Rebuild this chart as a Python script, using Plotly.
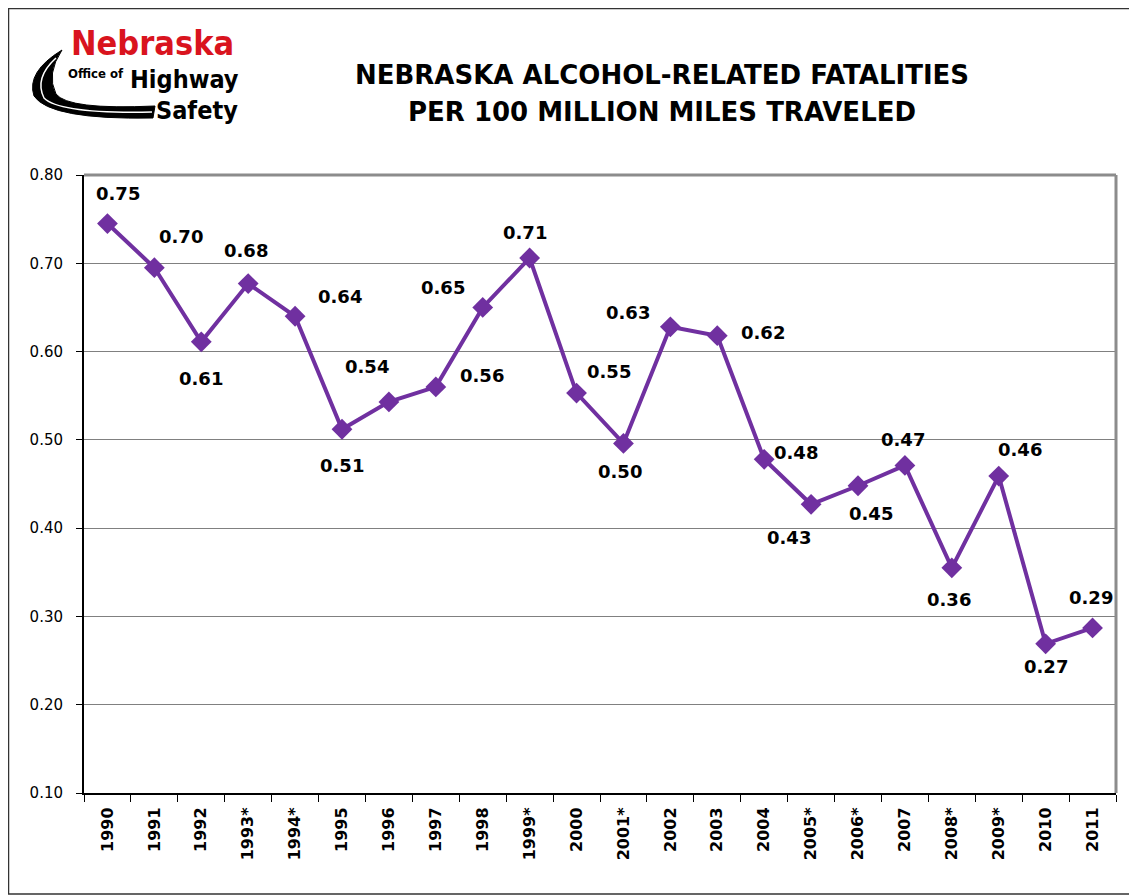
import plotly.graph_objects as go

years = ["1990", "1991", "1992", "1993*", "1994*", "1995", "1996", "1997", "1998", "1999*",
         "2000", "2001*", "2002", "2003", "2004", "2005*", "2006*", "2007", "2008*", "2009*",
         "2010", "2011"]
rates = [0.745, 0.695, 0.611, 0.677, 0.640, 0.512, 0.543, 0.560, 0.650, 0.706,
         0.553, 0.496, 0.628, 0.618, 0.478, 0.427, 0.448, 0.471, 0.355, 0.459,
         0.269, 0.287]
y_ticks = [0.10, 0.20, 0.30, 0.40, 0.50, 0.60, 0.70, 0.80]

# label offsets (pixels) for the data labels
label_dx = [11, 27, 0, -2, 45, 0, -22, 46, -40, -5, 32, -3, -42, 46, 32, -22, 13, -2, -3, 21, 0, -2]
label_dy = [-30, -31, 37, -33, -20, 36, -35, -11, -20, -25, -22, 28, -14, -3, -7, 33, 28, -26, 32, -27, 23, -30]

OFF = 8  # browser body margin
WIN_W, WIN_H = 1137, 895
W, H = WIN_W - OFF, WIN_H - OFF
L, R, T, B = 84, 1116, 175, 793  # page pixel coords of the plot area


def px(x):
    return (x - L) / (R - L)


def py(y):
    return (B - y) / (B - T)


PURPLE = "#7030A0"
fig = go.Figure()
fig.add_trace(go.Scatter(
    x=list(range(len(years))), y=rates, mode="lines+markers",
    line=dict(color=PURPLE, width=4),
    marker=dict(symbol="diamond", size=16, color=PURPLE),
    hoverinfo="skip", showlegend=False,
))

annotations = []
for i, v in enumerate(rates):
    annotations.append(dict(
        x=i, y=v, xref="x", yref="y", text="%.2f" % round(v + 1e-9, 2),
        showarrow=False, xshift=label_dx[i], yshift=-label_dy[i],
        xanchor="center", yanchor="middle",
        font=dict(family="DejaVu Sans", size=18, color="black", weight="bold"),
    ))

# Title (two lines)
title_font = dict(family="DejaVu Sans", size=26, color="black", weight="bold")
annotations.append(dict(x=px(662), y=py(75), xref="paper", yref="paper",
                        text="NEBRASKA ALCOHOL-RELATED FATALITIES", showarrow=False,
                        xanchor="center", yanchor="middle", font=title_font))
annotations.append(dict(x=px(662), y=py(112), xref="paper", yref="paper",
                        text="PER 100 MILLION MILES TRAVELED", showarrow=False,
                        xanchor="center", yanchor="middle", font=title_font))

# Logo text
logo_font = "DejaVu Sans Condensed"
annotations.append(dict(x=px(152), y=py(43), xref="paper", yref="paper", text="Nebraska",
                        showarrow=False, xanchor="center", yanchor="middle",
                        font=dict(family=logo_font, size=34, color="#D9141E", weight="bold")))
annotations.append(dict(x=px(96), y=py(73), xref="paper", yref="paper", text="Office of",
                        showarrow=False, xanchor="center", yanchor="middle",
                        font=dict(family=logo_font, size=13, color="black", weight="bold")))
annotations.append(dict(x=px(184), y=py(79), xref="paper", yref="paper", text="Highway",
                        showarrow=False, xanchor="center", yanchor="middle",
                        font=dict(family=logo_font, size=25, color="black", weight="bold")))
annotations.append(dict(x=px(197), y=py(111), xref="paper", yref="paper", text="Safety",
                        showarrow=False, xanchor="center", yanchor="middle",
                        font=dict(family=logo_font, size=25, color="black", weight="bold")))


def P(x, y):
    return "%f,%f" % (px(x), py(y))


swoosh = ("M " + P(62, 50) + " Q " + P(26, 72) + " " + P(34, 96) +
          " Q " + P(50, 120) + " " + P(153, 118) + " L " + P(155, 106) +
          " Q " + P(68, 110) + " " + P(56, 94) + " Q " + P(46, 74) + " " + P(62, 50) + " Z")
stripe = ("M " + P(56, 58) + " Q " + P(34, 78) + " " + P(44, 98) +
          " Q " + P(60, 114) + " " + P(152, 112))

shapes = [
    dict(type="path", xref="paper", yref="paper", path=swoosh,
         fillcolor="black", line=dict(color="black", width=1), layer="above"),
    dict(type="path", xref="paper", yref="paper", path=stripe,
         line=dict(color="white", width=1.5), layer="above"),
    # outer frame
    dict(type="rect", xref="paper", yref="paper", x0=px(8.5), x1=px(1135.5), y0=py(894), y1=py(8.5),
         line=dict(color="#333333", width=1.5)),
    # top & right plot border (gray)
    dict(type="line", xref="paper", yref="paper", x0=0, x1=1, y0=1, y1=1,
         line=dict(color="#8C8C8C", width=3)),
    dict(type="line", xref="paper", yref="paper", x0=1, x1=1, y0=0, y1=1,
         line=dict(color="#8C8C8C", width=3)),
]

fig.update_layout(
    width=W, height=H,
    margin=dict(l=L - OFF, r=WIN_W - R, t=T - OFF, b=WIN_H - B),
    paper_bgcolor="white", plot_bgcolor="white",
    annotations=annotations, shapes=shapes,
    xaxis=dict(
        range=[-0.5, len(years) - 0.5],
        tickvals=list(range(len(years))), ticktext=years,
        tickangle=-90, ticks="", showline=True, linecolor="black", linewidth=2,
        showgrid=False, zeroline=False, ticklabelstandoff=6,
        tickfont=dict(family="DejaVu Sans", size=16, color="black", weight="bold"),
        minor=dict(tickvals=[i - 0.5 for i in range(len(years) + 1)], ticks="outside",
                   ticklen=7, tickcolor="black", showgrid=False),
    ),
    yaxis=dict(
        range=[0.10, 0.80], tickvals=y_ticks, ticktext=["%.2f" % t for t in y_ticks],
        ticks="outside", ticklen=6, tickcolor="black",
        showline=True, linecolor="black", linewidth=2, ticklabelstandoff=10,
        showgrid=True, gridcolor="#808080", gridwidth=1, zeroline=False,
        tickfont=dict(family="DejaVu Sans", size=15, color="black"),
    ),
)

fig.write_html("out.html")
